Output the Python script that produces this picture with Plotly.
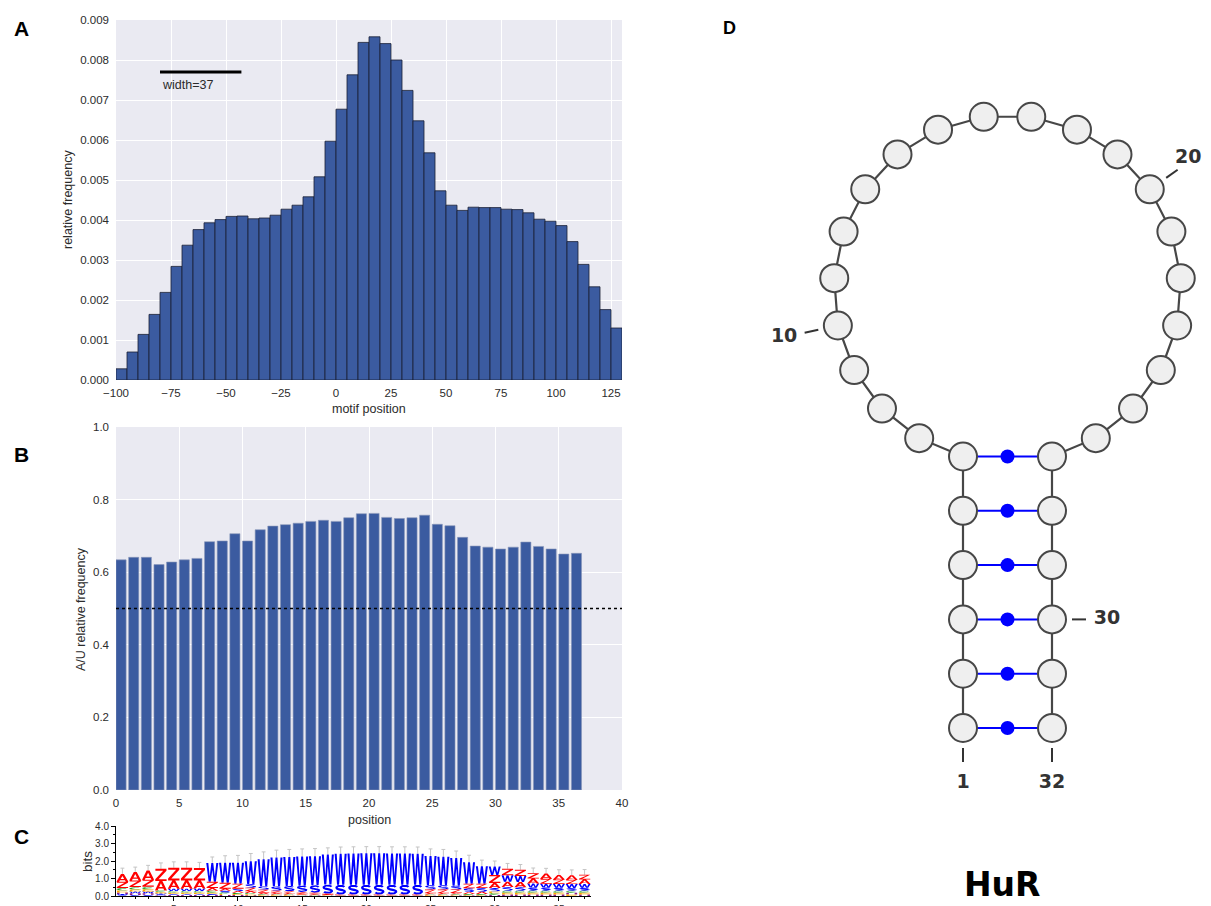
import math
import plotly.graph_objects as go

# ============================ DATA ============================
# Panel A: histogram of motif positions (bin start, width 5)
A_BIN_START = list(range(-100, 130, 5))
A_BIN_WIDTH = 5
A_FREQ = [0.00028, 0.00070, 0.00114, 0.00164, 0.00219, 0.00284, 0.00337, 0.00376,
          0.00393, 0.00401, 0.00409, 0.00410, 0.00403, 0.00405, 0.00412, 0.00427,
          0.00437, 0.00458, 0.00508, 0.00597, 0.00677, 0.00763, 0.00844, 0.00858,
          0.00841, 0.00800, 0.00724, 0.00648, 0.00568, 0.00473, 0.00437, 0.00424,
          0.00432, 0.00431, 0.00431, 0.00427, 0.00426, 0.00418, 0.00402, 0.00397,
          0.00386, 0.00346, 0.00289, 0.00233, 0.00176, 0.00130]
A_XTICKS = [-100, -75, -50, -25, 0, 25, 50, 75, 100, 125]
A_YTICKS = [0.000, 0.001, 0.002, 0.003, 0.004, 0.005, 0.006, 0.007, 0.008, 0.009]
A_WIDTH_X0 = -80
A_WIDTH_LEN = 37
A_WIDTH_Y = 0.0077
A_WIDTH_TEXT = "width=37"

# Panel B: A/U relative frequency per motif position
B_POS = list(range(37))
B_AU = [0.634, 0.641, 0.641, 0.621, 0.628, 0.634, 0.638, 0.684, 0.686, 0.706,
        0.686, 0.717, 0.727, 0.731, 0.735, 0.740, 0.743, 0.740, 0.750, 0.761,
        0.762, 0.751, 0.748, 0.750, 0.757, 0.732, 0.728, 0.696, 0.672, 0.669,
        0.664, 0.669, 0.683, 0.671, 0.664, 0.650, 0.652]
B_XTICKS = [0, 5, 10, 15, 20, 25, 30, 35, 40]
B_YTICKS = [0.0, 0.2, 0.4, 0.6, 0.8, 1.0]
B_BASELINE = 0.5

# Panel C: sequence logo (bits per letter, positions 1..37)
C_POS = list(range(1, 38))
C_A = [.43, .48, .52, .53, .47, .47, .45, .15, .12, .10, .10, .08, .07, .06, .05, .04, .03, .02, .02,
       .02, .02, .02, .02, .02, .06, .06, .07, .10, .12, .28, .30, .30, .28, .30, .26, .26, .25]
C_Z = [.36, .38, .40, .70, .72, .72, .72, .36, .34, .28, .20, .18, .14, .12, .10, .08, .05, .03, .03,
       .03, .03, .03, .03, .03, .22, .22, .20, .26, .24, .46, .38, .36, .30, .28, .25, .25, .27]
C_W = [.07, .10, .10, .06, .14, .14, .15, 1.08, 1.14, 1.20, 1.30, 1.55, 1.65, 1.66, 1.66, 1.66, 1.72,
       1.78, 1.79, 1.80, 1.80, 1.79, 1.79, 1.78, 1.67, 1.62, 1.58, 1.23, 1.00, .48, .36, .34, .24,
       .22, .22, .22, .22]
C_S = [.05, .06, .07, .05, .06, .06, .06, .07, .10, .14, .22, .19, .25, .30, .36, .42, .52, .56, .56,
       .56, .56, .56, .56, .56, .25, .25, .22, .22, .22, .20, .22, .20, .18, .18, .17, .16, .17]
C_C = [.14, .14, .15, .10, .09, .09, .09, .10, .08, .07, .07, .05, .04, .04, .03, .03, .02, .01, .01,
       .01, .01, .01, .01, .01, .04, .04, .04, .05, .05, .10, .12, .12, .12, .12, .12, .11, .12]
C_E = [.12, .12, .12, .08, .08, .08, .08, .08, .07, .06, .06, .03, .03, .03, .03, .02, .02, .01, .01,
       .01, .01, .01, .01, .01, .03, .03, .03, .04, .04, .10, .10, .10, .10, .10, .10, .09, .10]
C_H = [.08, .09, .09, .03, .05, .05, .05, .05, .05, .05, .04, .02, .02, .02, .02, .02, .01, .01, .01,
       .01, .01, .01, .01, .01, .02, .02, .03, .03, .03, .06, .08, .08, .08, .08, .08, .10, .08]
C_ERR = [.34, .28, .30, .34, .34, .34, .32, .34, .40, .42, .44, .42, .42, .43, .44, .44, .38, .38, .38,
         .38, .38, .38, .38, .38, .40, .42, .40, .40, .35, .32, .30, .30, .30, .30, .30, .30, .30]
C_YTICKS = [0, 1, 2, 3, 4]
C_XTICKS = [5, 10, 15, 20, 25, 30, 35]

# Panel D: HuR hairpin secondary structure
D_STRUCTURE = "((((((....................))))))"
D_LABELS = [1, 10, 20, 30, 32]
D_NAME = "HuR"

# ============================ STYLE ============================
WIN_W, WIN_H = 1211, 906
OFF = 8                      # page body margin of the html page
FIG_W, FIG_H = WIN_W - OFF, WIN_H - OFF
VISIBLE_RIGHT = WIN_W - OFF  # right limit that stays visible in the page
BG = "#EAEAF2"
BAR = "#3B5BA0"
TXT = "#2b2b2b"
FONT = "Liberation Sans"
LETTER_COLOR = {"A": "#FF0000", "Z": "#FF0000", "W": "#0000FF", "S": "#0000FF",
                "C": "#1a9a1a", "E": "#FFA500", "H": "#8B1A8B"}

# pixel boxes of the panels in window coords (left, top, right, bottom)
BOX_A = (116, 20, 622, 380)
BOX_B = (116, 427, 622, 790)
BOX_C = (116, 826, 591, 896)
BOX_D = (700, 0, 1211, 906)

# RNA drawing parameters (window pixels)
D_ANCHOR = (963, 728)
D_PAIR_W = 89
D_STEM_STEP = 54.3
D_LOOP_STEP = 47.5
D_NODE = 28
D_LABEL_SIZE = 19


def px(x):
    return (x - OFF) / FIG_W


def py(y):
    return 1 - (y - OFF) / FIG_H


def xdom(b):
    return [max(0, px(b[0])), min(1, px(b[2]))]


def ydom(b):
    return [max(0, py(b[3])), min(1, py(b[1]))]


fig = go.Figure()

# ============================ PANEL A ============================
a_centers = [s + A_BIN_WIDTH / 2 for s in A_BIN_START]
fig.add_trace(go.Bar(x=a_centers, y=A_FREQ, width=A_BIN_WIDTH,
                     marker=dict(color=BAR, line=dict(color="#1b1f33", width=0.8)),
                     xaxis="x", yaxis="y", hoverinfo="skip"))

# ============================ PANEL B ============================
fig.add_trace(go.Bar(x=[p + 0.4 for p in B_POS], y=B_AU, width=0.8,
                     marker=dict(color=BAR, line=dict(color="#8a97b8", width=0.6)),
                     xaxis="x2", yaxis="y2", hoverinfo="skip"))
fig.add_trace(go.Scatter(x=[B_XTICKS[0], B_XTICKS[-1]], y=[B_BASELINE, B_BASELINE], mode="lines",
                         line=dict(color="black", width=1.6, dash="dot"),
                         xaxis="x2", yaxis="y2", hoverinfo="skip"))


# ============================ PANEL C (logo) ============================
def orient(poly):
    a = 0
    for i in range(len(poly)):
        x1, y1 = poly[i]
        x2, y2 = poly[(i + 1) % len(poly)]
        a += x1 * y2 - x2 * y1
    return poly if a > 0 else poly[::-1]


def arc(cx, cy, rx, ry, a0, a1, n=22):
    return [(cx + rx * math.cos(math.radians(a0 + (a1 - a0) * i / (n - 1))),
             cy + ry * math.sin(math.radians(a0 + (a1 - a0) * i / (n - 1)))) for i in range(n)]


def stroke(pts, t):
    left, right = [], []
    n = len(pts)
    for k in range(n):
        if k == 0:
            dx, dy = pts[1][0] - pts[0][0], pts[1][1] - pts[0][1]
        elif k == n - 1:
            dx, dy = pts[k][0] - pts[k - 1][0], pts[k][1] - pts[k - 1][1]
        else:
            dx, dy = pts[k + 1][0] - pts[k - 1][0], pts[k + 1][1] - pts[k - 1][1]
        L = math.hypot(dx, dy) or 1
        nx, ny = -dy / L, dx / L
        left.append((pts[k][0] + t * nx, pts[k][1] + t * ny))
        right.append((pts[k][0] - t * nx, pts[k][1] - t * ny))
    return left + right[::-1]


S_LINE = arc(0.5, 0.7, 0.34, 0.2, 25, 270) + arc(0.5, 0.3, 0.34, 0.2, 90, -155)[1:]
GLYPHS = {
    "A": [[(0, 0), (0.22, 0), (0.5, 0.76), (0.78, 0), (1, 0), (0.62, 1), (0.38, 1)],
          [(0.26, 0.2), (0.74, 0.2), (0.74, 0.36), (0.26, 0.36)]],
    "Z": [[(0.04, 1), (0.96, 1), (0.96, 0.84), (0.3, 0.16), (0.97, 0.16), (0.97, 0),
           (0.03, 0), (0.03, 0.16), (0.69, 0.84), (0.04, 0.84)]],
    "W": [[(0, 1), (0.17, 1), (0.29, 0.28), (0.42, 1), (0.58, 1), (0.71, 0.28), (0.83, 1),
           (1, 1), (0.8, 0), (0.63, 0), (0.5, 0.62), (0.37, 0), (0.2, 0)]],
    "S": [stroke(S_LINE, 0.1)],
    "C": [stroke(arc(0.5, 0.5, 0.4, 0.4, 40, 320), 0.1)],
    "E": [[(0.05, 0), (0.05, 1), (0.95, 1), (0.95, 0.83), (0.26, 0.83), (0.26, 0.59), (0.88, 0.59),
           (0.88, 0.42), (0.26, 0.42), (0.26, 0.17), (0.95, 0.17), (0.95, 0)]],
    "H": [[(0.05, 0), (0.05, 1), (0.26, 1), (0.26, 0)], [(0.74, 0), (0.74, 1), (0.95, 1), (0.95, 0)],
          [(0.2, 0.42), (0.8, 0.42), (0.8, 0.59), (0.2, 0.59)]],
}
LOGO = {"A": C_A, "Z": C_Z, "W": C_W, "S": C_S, "C": C_C, "E": C_E, "H": C_H}
LETTER_W = 0.94

color_paths = {}
tops = []
for i, p in enumerate(C_POS):
    items = sorted(((LOGO[k][i], k) for k in LOGO), key=lambda t: t[0])
    base = 0.0
    for h, k in items:
        col = LETTER_COLOR[k]
        xs, ys = color_paths.setdefault(col, ([], []))
        for poly in GLYPHS[k]:
            for (u, v) in orient(poly):
                xs.append(p - LETTER_W / 2 + u * LETTER_W)
                ys.append(base + v * h)
            xs.append(None)
            ys.append(None)
        base += h
    tops.append(base)

ex, ey = [], []
for p, t, e in zip(C_POS, tops, C_ERR):
    ex += [p, p, None, p - 0.15, p + 0.15, None]
    ey += [t, t + e, None, t + e, t + e, None]
fig.add_trace(go.Scatter(x=ex, y=ey, mode="lines", line=dict(color="#c4c4c4", width=1),
                         xaxis="x3", yaxis="y3", hoverinfo="skip"))
for col, (xs, ys) in color_paths.items():
    fig.add_trace(go.Scatter(x=xs, y=ys, mode="lines", fill="toself", fillcolor=col,
                             line=dict(color=col, width=0), xaxis="x3", yaxis="y3",
                             hoverinfo="skip"))


# ============================ PANEL D (hairpin) ============================
def hairpin_layout(db):
    n = len(db)
    n_stem = db.count("(")
    n_loop = n - 2 * n_stem
    ax, ay = D_ANCHOR
    pos = [None] * n
    for i in range(n_stem):
        y = ay - i * D_STEM_STEP
        pos[i] = (ax, y)
        pos[n - 1 - i] = (ax + D_PAIR_W, y)
    lo, hi = D_PAIR_W / 2 + 0.01, 2000.0
    for _ in range(100):
        R = (lo + hi) / 2
        f = (n_loop + 1) * 2 * math.asin(D_LOOP_STEP / (2 * R)) + 2 * math.asin(D_PAIR_W / (2 * R))
        if f > 2 * math.pi:
            lo = R
        else:
            hi = R
    cx = ax + D_PAIR_W / 2
    ytop = ay - (n_stem - 1) * D_STEM_STEP
    cy = ytop - math.sqrt(R * R - (D_PAIR_W / 2) ** 2)
    half = math.asin(D_PAIR_W / (2 * R))
    step = 2 * math.asin(D_LOOP_STEP / (2 * R))
    for k in range(n_loop):
        th = half + (k + 1) * step
        pos[n_stem + k] = (cx - R * math.sin(th), cy + R * math.cos(th))
    pairs = [(i, n - 1 - i) for i in range(n_stem)]
    return pos, pairs, (cx, cy), n_stem


nodes, pairs, center, n_stem = hairpin_layout(D_STRUCTURE)
nx_ = [p[0] for p in nodes]
ny_ = [p[1] for p in nodes]
fig.add_trace(go.Scatter(x=nx_, y=ny_, mode="lines", line=dict(color="#474747", width=2.2),
                         xaxis="x4", yaxis="y4", hoverinfo="skip"))
bx, by, mx, my = [], [], [], []
for i, j in pairs:
    bx += [nodes[i][0], nodes[j][0], None]
    by += [nodes[i][1], nodes[j][1], None]
    mx.append((nodes[i][0] + nodes[j][0]) / 2)
    my.append((nodes[i][1] + nodes[j][1]) / 2)
fig.add_trace(go.Scatter(x=bx, y=by, mode="lines", line=dict(color="#0000FF", width=2),
                         xaxis="x4", yaxis="y4", hoverinfo="skip"))
fig.add_trace(go.Scatter(x=nx_, y=ny_, mode="markers",
                         marker=dict(size=D_NODE, color="#EFEFEF", line=dict(color="#474747", width=2)),
                         xaxis="x4", yaxis="y4", hoverinfo="skip"))
fig.add_trace(go.Scatter(x=mx, y=my, mode="markers", marker=dict(size=14, color="#0000FF"),
                         xaxis="x4", yaxis="y4", hoverinfo="skip"))

n = len(D_STRUCTURE)
lx, ly, tx, ty, tt = [], [], [], [], []
for lab in D_LABELS:
    i = lab - 1
    x, y = nodes[i]
    if i == 0 or i == n - 1:
        dx, dy = 0, 1
    elif i < n_stem:
        dx, dy = -1, 0
    elif i >= n - n_stem:
        dx, dy = 1, 0
    else:
        dx, dy = x - center[0], y - center[1]
        L = math.hypot(dx, dy)
        dx, dy = dx / L, dy / L
    lx += [x + 20 * dx, x + 34 * dx, None]
    ly += [y + 20 * dy, y + 34 * dy, None]
    half_w = len(str(lab)) * 0.36 * D_LABEL_SIZE
    tx.append(min(x + 55 * dx, VISIBLE_RIGHT - 1 - half_w))
    ty.append(y + 55 * dy)
    tt.append(str(lab))
fig.add_trace(go.Scatter(x=lx, y=ly, mode="lines", line=dict(color="#333333", width=2),
                         xaxis="x4", yaxis="y4", hoverinfo="skip"))
fig.add_trace(go.Scatter(x=tx, y=ty, mode="text", text=tt,
                         textfont=dict(family="DejaVu Sans", size=D_LABEL_SIZE, color="#333333",
                                       weight="bold"),
                         xaxis="x4", yaxis="y4", hoverinfo="skip", cliponaxis=False))

# ============================ LAYOUT ============================
tickfont = dict(family=FONT, size=11.5, color=TXT)
grid_axis = dict(showgrid=True, gridcolor="white", gridwidth=1.2, zeroline=False, showline=False,
                 ticks="", tickfont=tickfont, automargin=False, fixedrange=True)

shapes = [
    dict(type="rect", xref="x domain", yref="y domain", x0=0, x1=1, y0=0, y1=1,
         fillcolor=BG, line=dict(width=0), layer="below"),
    dict(type="rect", xref="x2 domain", yref="y2 domain", x0=0, x1=1, y0=0, y1=1,
         fillcolor=BG, line=dict(width=0), layer="below"),
    dict(type="line", xref="x", yref="y", x0=A_WIDTH_X0, x1=A_WIDTH_X0 + A_WIDTH_LEN,
         y0=A_WIDTH_Y, y1=A_WIDTH_Y, line=dict(color="black", width=3)),
]


def ann(text, x, y, size, angle=0, bold=False, color=TXT, family=FONT, xanchor="center"):
    return dict(text=text, x=px(x), y=py(y), xref="paper", yref="paper", showarrow=False,
                textangle=angle, xanchor=xanchor, yanchor="middle",
                font=dict(family=family, size=size, color=color, weight="bold" if bold else "normal"))


annotations = [
    ann("A", 21.5, 28, 21, bold=True, color="black"),
    ann("B", 21.5, 454, 21, bold=True, color="black"),
    ann("C", 21.5, 836, 21, bold=True, color="black"),
    ann("D", 729, 28, 18, bold=True, color="black"),
    ann("relative frequency", 68, 200, 12.5, angle=-90),
    ann("motif position", 369, 409, 12.5),
    ann("A/U relative frequency", 81, 609, 12.5, angle=-90),
    ann("position", 369, 820, 12.5),
    ann("bits", 87, 862, 13.5, angle=-90),
    ann(D_NAME, 1002, 884, 33, bold=True, color="black", family="DejaVu Sans"),
    dict(text=A_WIDTH_TEXT, x=A_WIDTH_X0, y=A_WIDTH_Y - 0.00033, xref="x", yref="y", showarrow=False,
         xanchor="left", yanchor="middle", font=dict(family=FONT, size=12.5, color=TXT)),
]

fig.update_layout(
    width=FIG_W, height=FIG_H, margin=dict(l=0, r=0, t=0, b=0),
    paper_bgcolor="white", plot_bgcolor="white", showlegend=False,
    shapes=shapes, annotations=annotations,
    xaxis=dict(grid_axis, domain=xdom(BOX_A), range=[-100, 130], anchor="y",
               tickmode="array", tickvals=A_XTICKS,
               ticktext=[str(v).replace("-", "\u2212") for v in A_XTICKS], ticklabelstandoff=4),
    yaxis=dict(grid_axis, domain=ydom(BOX_A), range=[0, 0.009], anchor="x",
               tickmode="array", tickvals=A_YTICKS, ticktext=["%.3f" % v for v in A_YTICKS],
               ticklabelstandoff=6),
    xaxis2=dict(grid_axis, domain=xdom(BOX_B), range=[0, 40], anchor="y2",
                tickmode="array", tickvals=B_XTICKS, ticktext=[str(v) for v in B_XTICKS],
                ticklabelstandoff=4),
    yaxis2=dict(grid_axis, domain=ydom(BOX_B), range=[0, 1.0], anchor="x2",
                tickmode="array", tickvals=B_YTICKS, ticktext=["%.1f" % v for v in B_YTICKS],
                ticklabelstandoff=6),
    xaxis3=dict(domain=xdom(BOX_C), range=[0.5, 37.5], anchor="y3", showgrid=False, zeroline=False,
                showline=True, linecolor="black", linewidth=1, ticks="outside", ticklen=4,
                tickcolor="black", tickmode="array", tickvals=C_XTICKS,
                ticktext=[str(v) for v in C_XTICKS],
                tickfont=dict(family=FONT, size=10, color=TXT), automargin=False, fixedrange=True,
                minor=dict(dtick=1, tick0=0, ticks="outside", ticklen=2, tickcolor="black")),
    yaxis3=dict(domain=ydom(BOX_C), range=[0, 4.0], anchor="x3", showgrid=False, zeroline=False,
                showline=True, linecolor="black", linewidth=1, ticks="outside", ticklen=4,
                tickcolor="black", tickmode="array", tickvals=C_YTICKS,
                ticktext=["%.1f" % v for v in C_YTICKS],
                tickfont=dict(family=FONT, size=10, color=TXT), automargin=False, fixedrange=True,
                minor=dict(dtick=0.5, tick0=0, ticks="outside", ticklen=2, tickcolor="black")),
    xaxis4=dict(domain=xdom(BOX_D), range=[max(BOX_D[0], OFF), BOX_D[2]], anchor="y4", visible=False,
                fixedrange=True),
    yaxis4=dict(domain=[0, 1], range=[OFF + FIG_H, OFF], anchor="x4", visible=False,
                fixedrange=True),
)

fig.write_html("out.html")
